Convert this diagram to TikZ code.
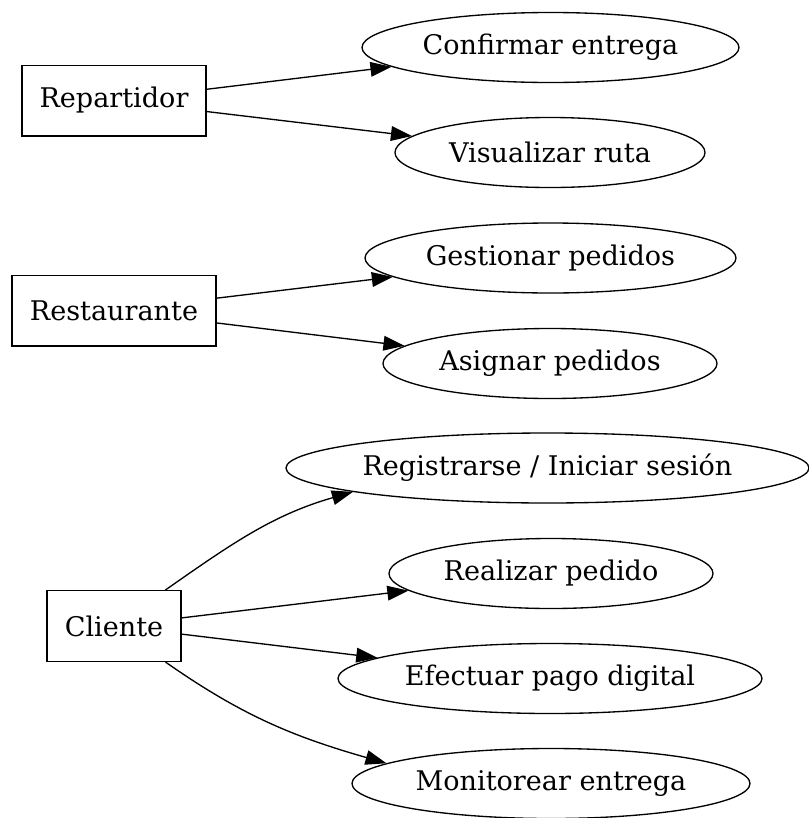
\documentclass[tikz,border=0pt]{standalone}
\usepackage{fontspec}
\setmainfont{DejaVu Serif}
\usetikzlibrary{shapes.geometric,arrows.meta}
\tikzset{
  actor/.style={draw, rectangle, line width=1pt, inner sep=0pt, minimum height=53pt},
  usecase/.style={draw, ellipse, line width=1pt, inner sep=0pt, minimum height=52.5pt},
  rel/.style={-{Triangle[length=15.75pt,width=11pt]}, line width=1pt},
}
\begin{document}
\begin{tikzpicture}[x=0.75pt,y=0.75pt,font=\fontsize{20.3}{24}\selectfont]
            \useasboundingbox (0,0) rectangle (808,-818);
            % actores
            \node[actor, minimum width=138pt] (rep) at (114,-100.5) {Repartidor};
            \node[actor, minimum width=153pt] (res) at (114,-310.5) {Restaurante};
            \node[actor, minimum width=100.5pt] (cli) at (114,-626) {Cliente};
            % casos de uso
            \node[usecase, minimum width=282.75pt] (conf) at (550.5,-47.5) {Confirmar entrega};
            \node[usecase, minimum width=232.5pt] (ruta) at (550,-152.5) {Visualizar ruta};
            \node[usecase, minimum width=278.25pt] (gest) at (550.5,-258) {Gestionar pedidos};
            \node[usecase, minimum width=250.5pt] (asig) at (550,-363.5) {Asignar pedidos};
            \node[usecase, minimum width=390pt] (reg) at (547.5,-468) {Registrarse / Iniciar sesión};
            \node[usecase, minimum width=243pt] (ped) at (551,-573.5) {Realizar pedido};
            \node[usecase, minimum width=318pt] (pago) at (550,-678.5) {Efectuar pago digital};
            \node[usecase, minimum width=298.5pt] (mon) at (551,-783.5) {Monitorear entrega};
            % relaciones
            \draw[rel] (rep) -- (conf);
            \draw[rel] (rep) -- (ruta);
            \draw[rel] (res) -- (gest);
            \draw[rel] (res) -- (asig);
            \draw[rel] (cli.35) to[out=35,in=196] (reg.187);
            \draw[rel] (cli) -- (ped);
            \draw[rel] (cli) -- (pago);
            \draw[rel] (cli.-35) to[out=-35,in=164] (mon.173);
        \end{tikzpicture}
\end{document}
